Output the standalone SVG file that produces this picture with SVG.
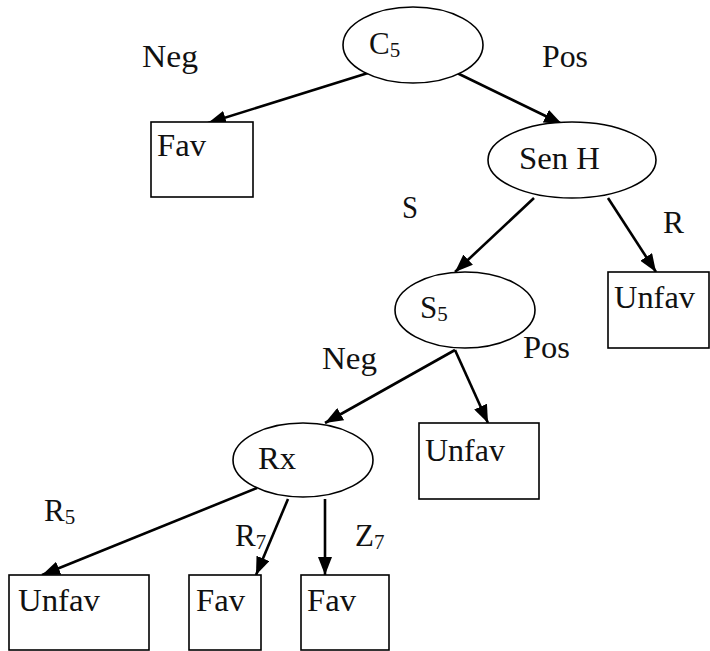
<svg xmlns="http://www.w3.org/2000/svg" width="710" height="651" viewBox="0 0 710 651">
  <defs>
    <marker id="arrow" markerUnits="userSpaceOnUse" markerWidth="18" markerHeight="14" refX="18" refY="7" orient="auto">
      <path d="M0,0 L18,7 L0,14 z" fill="#000"/>
    </marker>
    <style>
      .node { fill: #fff; stroke: #000; stroke-width: 1.6; }
      .edge { stroke: #000; stroke-width: 2.6; fill: none; marker-end: url(#arrow); }
      text { font-family: "Liberation Serif", "Times New Roman", serif; font-size: 31px; fill: #111; }
      .sub { font-size: 21px; }
    </style>
  </defs>
  <rect width="710" height="651" fill="#fff"/>

  <!-- connectors -->
  <g id="edges">
    <line class="edge" x1="368" y1="73" x2="208" y2="123"/>
    <line class="edge" x1="455" y1="72" x2="562" y2="124"/>
    <line class="edge" x1="534" y1="198" x2="455" y2="272"/>
    <line class="edge" x1="608" y1="198" x2="656" y2="272"/>
    <line class="edge" x1="455" y1="350" x2="325" y2="423"/>
    <line class="edge" x1="455" y1="350" x2="488" y2="423"/>
    <line class="edge" x1="257" y1="488" x2="42" y2="575"/>
    <line class="edge" x1="288" y1="499" x2="256" y2="575"/>
    <line class="edge" x1="325" y1="499" x2="325" y2="575"/>
  </g>

  <!-- edge labels -->
  <g id="labels">
    <text x="142" y="67" textLength="56" lengthAdjust="spacingAndGlyphs">Neg</text>
    <text x="542" y="67" textLength="46" lengthAdjust="spacingAndGlyphs">Pos</text>
    <text x="402" y="218" textLength="16" lengthAdjust="spacingAndGlyphs">S</text>
    <text x="663" y="233" textLength="21" lengthAdjust="spacingAndGlyphs">R</text>
    <text x="523" y="358" textLength="47" lengthAdjust="spacingAndGlyphs">Pos</text>
    <text x="322" y="369" textLength="55" lengthAdjust="spacingAndGlyphs">Neg</text>
    <text x="44" y="521">R<tspan class="sub" dy="3">5</tspan></text>
    <text x="235" y="546">R<tspan class="sub" dy="3">7</tspan></text>
    <text x="355" y="546">Z<tspan class="sub" dy="3">7</tspan></text>
  </g>

  <g id="c5">
    <ellipse class="node" cx="413" cy="45" rx="70" ry="38"/>
    <text x="369" y="54">C<tspan class="sub" dy="3">5</tspan></text>
  </g>
  <g id="fav-top">
    <rect class="node" x="151" y="122" width="102" height="75"/>
    <text x="157" y="156" textLength="49" lengthAdjust="spacingAndGlyphs">Fav</text>
  </g>
  <g id="senh">
    <ellipse class="node" cx="572" cy="160" rx="84" ry="38"/>
    <text x="519" y="169" textLength="81" lengthAdjust="spacingAndGlyphs">Sen H</text>
  </g>
  <g id="unfav-r">
    <rect class="node" x="608" y="272" width="101" height="76"/>
    <text x="614" y="308" textLength="81" lengthAdjust="spacingAndGlyphs">Unfav</text>
  </g>
  <g id="s5">
    <ellipse class="node" cx="465" cy="310" rx="70" ry="38"/>
    <text x="420" y="318">S<tspan class="sub" dy="3">5</tspan></text>
  </g>
  <g id="unfav-mid">
    <rect class="node" x="419" y="423" width="120" height="76"/>
    <text x="425" y="461" textLength="80" lengthAdjust="spacingAndGlyphs">Unfav</text>
  </g>
  <g id="rx">
    <ellipse class="node" cx="303" cy="460" rx="70" ry="37"/>
    <text x="258" y="469" textLength="38" lengthAdjust="spacingAndGlyphs">Rx</text>
  </g>
  <g id="unfav-bl">
    <rect class="node" x="9" y="575" width="140" height="75"/>
    <text x="18" y="611" textLength="82" lengthAdjust="spacingAndGlyphs">Unfav</text>
  </g>
  <g id="fav-b1">
    <rect class="node" x="189" y="575" width="72" height="75"/>
    <text x="196" y="611" textLength="49" lengthAdjust="spacingAndGlyphs">Fav</text>
  </g>
  <g id="fav-b2">
    <rect class="node" x="301" y="575" width="88" height="75"/>
    <text x="307" y="611" textLength="49" lengthAdjust="spacingAndGlyphs">Fav</text>
  </g>
</svg>
